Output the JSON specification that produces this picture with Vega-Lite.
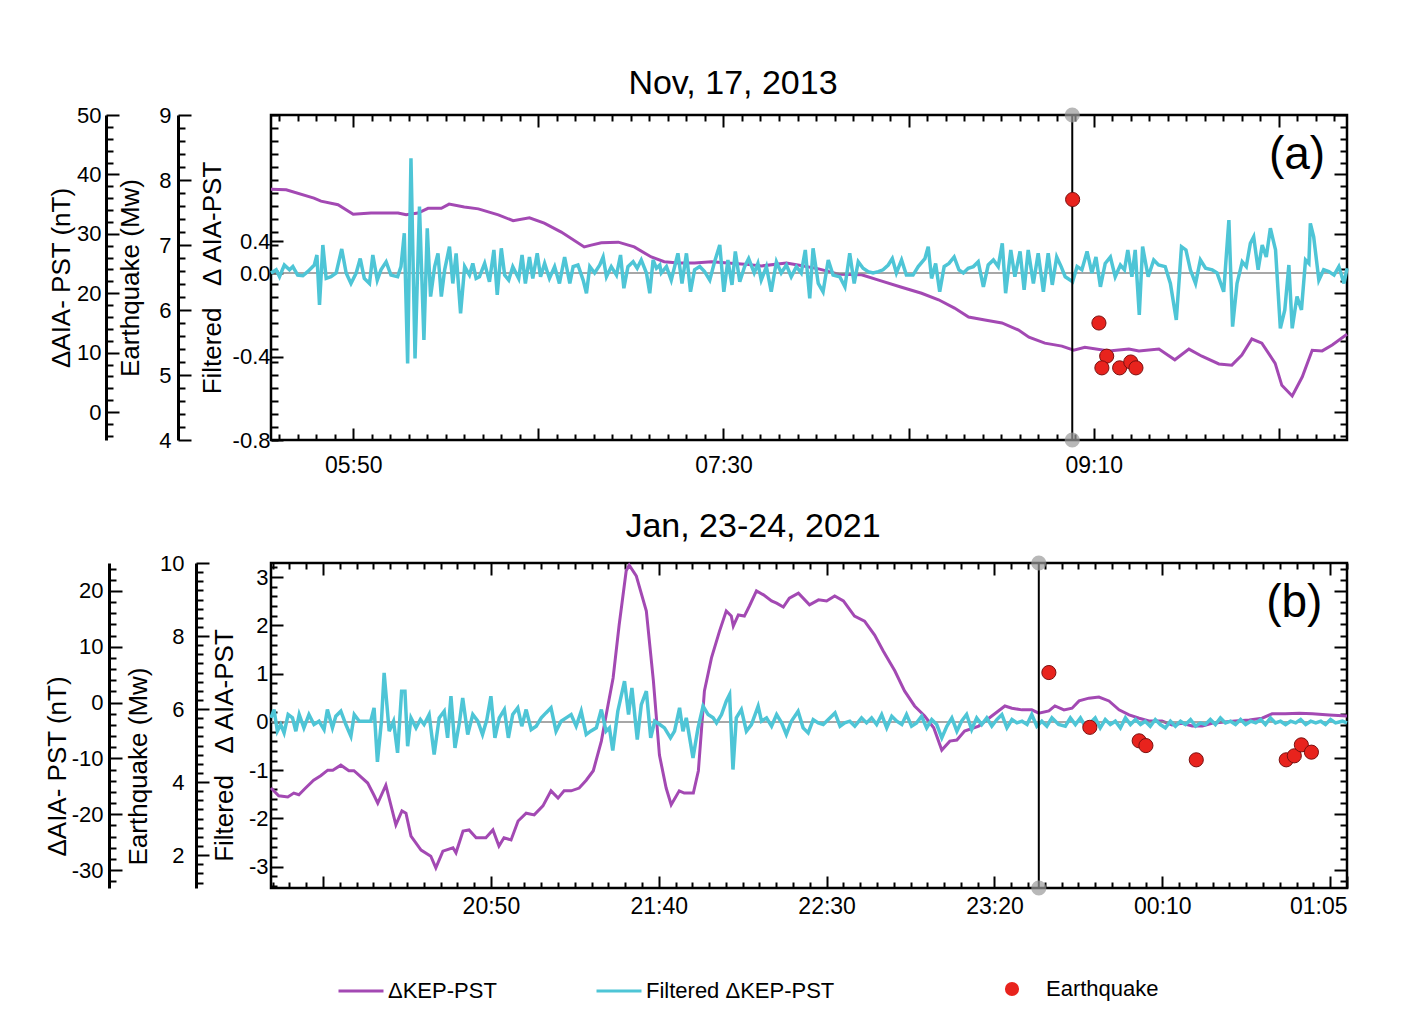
{
"$schema": "https://vega.github.io/schema/vega-lite/v6.json",
"padding": {"left": 42, "top": 65, "right": 10, "bottom": 5},
"background": "white",
"spacing": 23,
"config": {
  "font": "Liberation Sans",
  "view": {"stroke": "black", "strokeWidth": 2.5},
  "title": {"fontSize": 34, "fontWeight": "normal", "color": "black"},
  "axis": {"labelFontSize": 22, "titleFontSize": 26, "titleFontWeight": "normal", "labelColor": "black", "titleColor": "black", "tickColor": "black", "tickWidth": 2, "domainColor": "black", "domainWidth": 3, "grid": false, "labelOverlap": false}
},
"resolve": {"scale": {"color": "independent", "fill": "independent"}},
"datasets": {
  "zero": [{"z": 0}],
  "kepA": [{"t":327.8,"v":37.5},{"t":331.9,"v":37.4},{"t":339.4,"v":36.0},{"t":341.3,"v":35.5},{"t":345.9,"v":34.9},{"t":350.0,"v":33.3},{"t":354.8,"v":33.5},{"t":362.1,"v":33.5},{"t":364.3,"v":33.2},{"t":367.5,"v":33.5},{"t":370.2,"v":34.3},{"t":373.8,"v":34.3},{"t":375.9,"v":35.0},{"t":380.0,"v":34.5},{"t":383.8,"v":34.2},{"t":389.2,"v":33.2},{"t":393.2,"v":32.2},{"t":397.6,"v":32.7},{"t":401.6,"v":31.8},{"t":406.2,"v":30.3},{"t":412.4,"v":27.8},{"t":414.3,"v":28.1},{"t":417.0,"v":28.5},{"t":421.6,"v":28.6},{"t":425.9,"v":27.8},{"t":430.5,"v":26.1},{"t":434.0,"v":25.3},{"t":437.8,"v":25.1},{"t":442.2,"v":25.1},{"t":446.8,"v":25.3},{"t":455.7,"v":24.9},{"t":460.3,"v":24.6},{"t":467.0,"v":25.1},{"t":470.5,"v":24.7},{"t":475.7,"v":24.1},{"t":481.1,"v":23.2},{"t":487.3,"v":23.1},{"t":491.9,"v":22.2},{"t":498.1,"v":21.0},{"t":503.5,"v":20.0},{"t":508.1,"v":18.9},{"t":512.4,"v":17.5},{"t":516.2,"v":16.0},{"t":520.6,"v":15.5},{"t":525.2,"v":15.0},{"t":529.7,"v":13.8},{"t":532.5,"v":12.6},{"t":536.8,"v":11.6},{"t":541.4,"v":11.1},{"t":544.6,"v":10.4},{"t":547.6,"v":10.9},{"t":554.1,"v":10.3},{"t":559.5,"v":10.6},{"t":562.2,"v":10.3},{"t":567.6,"v":10.6},{"t":571.9,"v":8.8},{"t":575.7,"v":10.6},{"t":579.2,"v":9.4},{"t":583.8,"v":8.1},{"t":587.3,"v":7.9},{"t":590.0,"v":9.6},{"t":592.7,"v":12.3},{"t":595.4,"v":11.6},{"t":599.0,"v":8.2},{"t":600.8,"v":4.5},{"t":603.6,"v":2.7},{"t":606.3,"v":5.9},{"t":609.0,"v":10.4},{"t":611.7,"v":10.3},{"t":614.4,"v":11.3},{"t":618.4,"v":13.1}],
  "filtA": [{"t":327.8,"v":0.0},{"t":329.2,"v":0.04},{"t":330.1,"v":-0.018},{"t":331.4,"v":0.1},{"t":332.8,"v":0.04},{"t":333.7,"v":0.08},{"t":335.0,"v":-0.01},{"t":336.4,"v":-0.013},{"t":337.7,"v":0.017},{"t":339.5,"v":0.1},{"t":340.2,"v":0.225},{"t":340.9,"v":-0.153},{"t":341.8,"v":0.35},{"t":342.7,"v":-0.026},{"t":344.0,"v":-0.018},{"t":345.4,"v":0.0},{"t":346.9,"v":0.3},{"t":348.1,"v":0.0},{"t":349.4,"v":-0.05},{"t":350.8,"v":0.0},{"t":351.9,"v":0.18},{"t":353.0,"v":-0.026},{"t":354.4,"v":-0.05},{"t":355.3,"v":0.225},{"t":356.5,"v":-0.034},{"t":357.5,"v":0.04},{"t":358.9,"v":0.14},{"t":360.2,"v":-0.01},{"t":362.0,"v":-0.018},{"t":362.9,"v":0.08},{"t":363.8,"v":0.449},{"t":364.7,"v":-0.433},{"t":365.6,"v":0.925},{"t":366.7,"v":-0.409},{"t":367.9,"v":0.618},{"t":369.1,"v":-0.321},{"t":370.0,"v":0.481},{"t":370.9,"v":-0.113},{"t":372.0,"v":0.08},{"t":372.9,"v":0.246},{"t":373.8,"v":-0.113},{"t":374.7,"v":0.04},{"t":376.0,"v":0.329},{"t":376.9,"v":-0.05},{"t":377.8,"v":0.246},{"t":379.0,"v":-0.193},{"t":380.1,"v":0.08},{"t":381.4,"v":-0.01},{"t":382.3,"v":0.12},{"t":383.2,"v":-0.026},{"t":384.1,"v":-0.018},{"t":385.5,"v":0.12},{"t":386.8,"v":-0.042},{"t":388.0,"v":0.288},{"t":388.9,"v":-0.105},{"t":390.0,"v":0.309},{"t":390.9,"v":-0.01},{"t":392.0,"v":-0.034},{"t":393.1,"v":0.08},{"t":394.7,"v":-0.026},{"t":395.6,"v":0.225},{"t":396.5,"v":-0.05},{"t":397.6,"v":0.2},{"t":398.5,"v":-0.026},{"t":399.7,"v":0.246},{"t":400.6,"v":-0.018},{"t":401.7,"v":0.12},{"t":403.0,"v":-0.026},{"t":404.4,"v":0.08},{"t":405.7,"v":-0.05},{"t":407.1,"v":0.2},{"t":408.5,"v":-0.05},{"t":409.4,"v":0.08},{"t":410.7,"v":0.1},{"t":412.1,"v":-0.034},{"t":413.0,"v":-0.097},{"t":413.9,"v":0.08},{"t":415.2,"v":0.0},{"t":416.6,"v":0.1},{"t":417.5,"v":0.2},{"t":418.4,"v":-0.018},{"t":419.7,"v":0.08},{"t":421.1,"v":-0.01},{"t":422.2,"v":0.225},{"t":423.1,"v":-0.073},{"t":424.2,"v":0.08},{"t":425.6,"v":0.14},{"t":426.7,"v":0.059},{"t":427.8,"v":0.163},{"t":429.2,"v":0.0},{"t":430.1,"v":-0.097},{"t":431.0,"v":0.163},{"t":431.9,"v":0.059},{"t":432.8,"v":0.1},{"t":433.2,"v":0.0},{"t":434.6,"v":0.08},{"t":435.9,"v":-0.034},{"t":437.7,"v":0.246},{"t":438.8,"v":-0.05},{"t":440.0,"v":0.246},{"t":441.1,"v":-0.09},{"t":442.2,"v":0.04},{"t":443.6,"v":0.08},{"t":444.9,"v":0.017},{"t":446.3,"v":-0.034},{"t":447.6,"v":0.14},{"t":449.0,"v":0.35},{"t":450.1,"v":-0.09},{"t":451.2,"v":0.163},{"t":452.3,"v":-0.057},{"t":453.2,"v":0.27},{"t":454.4,"v":-0.042},{"t":455.7,"v":0.08},{"t":456.8,"v":0.18},{"t":458.3,"v":0.0},{"t":459.3,"v":0.12},{"t":460.2,"v":-0.034},{"t":461.6,"v":0.08},{"t":462.9,"v":-0.09},{"t":464.3,"v":0.14},{"t":465.6,"v":0.0},{"t":467.0,"v":0.1},{"t":468.3,"v":-0.018},{"t":469.7,"v":0.08},{"t":471.0,"v":0.0},{"t":472.1,"v":0.288},{"t":473.3,"v":-0.121},{"t":474.2,"v":0.309},{"t":475.6,"v":-0.05},{"t":476.9,"v":-0.09},{"t":478.3,"v":0.163},{"t":479.6,"v":-0.01},{"t":481.4,"v":-0.018},{"t":482.8,"v":-0.066},{"t":484.1,"v":0.246},{"t":485.3,"v":-0.05},{"t":486.4,"v":0.14},{"t":487.7,"v":0.059},{"t":489.1,"v":0.017},{"t":490.4,"v":0.0},{"t":491.8,"v":0.017},{"t":493.1,"v":0.04},{"t":494.5,"v":0.1},{"t":495.6,"v":0.18},{"t":496.7,"v":0.0},{"t":498.1,"v":0.163},{"t":499.4,"v":-0.01},{"t":501.2,"v":-0.01},{"t":502.6,"v":0.08},{"t":504.4,"v":0.18},{"t":505.3,"v":0.329},{"t":506.2,"v":-0.026},{"t":507.3,"v":0.12},{"t":508.4,"v":-0.09},{"t":509.6,"v":0.08},{"t":510.9,"v":0.12},{"t":512.3,"v":0.2},{"t":513.6,"v":0.04},{"t":514.8,"v":0.0},{"t":516.1,"v":0.059},{"t":517.5,"v":0.08},{"t":518.8,"v":0.14},{"t":520.2,"v":-0.066},{"t":521.5,"v":0.1},{"t":522.9,"v":0.163},{"t":524.2,"v":0.08},{"t":525.3,"v":0.371},{"t":526.2,"v":-0.097},{"t":527.6,"v":0.288},{"t":528.7,"v":-0.018},{"t":530.1,"v":0.27},{"t":531.2,"v":-0.081},{"t":532.3,"v":0.288},{"t":533.7,"v":-0.05},{"t":535.0,"v":0.246},{"t":536.4,"v":-0.09},{"t":537.7,"v":0.246},{"t":538.8,"v":-0.057},{"t":540.0,"v":0.2},{"t":541.2,"v":0.08},{"t":542.3,"v":-0.018},{"t":544.3,"v":-0.042},{"t":545.5,"v":0.08},{"t":546.8,"v":0.04},{"t":548.2,"v":0.27},{"t":549.5,"v":0.0},{"t":550.6,"v":0.2},{"t":551.8,"v":-0.066},{"t":553.1,"v":0.12},{"t":554.5,"v":0.2},{"t":555.8,"v":-0.018},{"t":557.2,"v":0.1},{"t":558.3,"v":0.04},{"t":559.2,"v":0.288},{"t":560.3,"v":-0.018},{"t":561.2,"v":0.288},{"t":562.3,"v":-0.201},{"t":563.2,"v":0.329},{"t":564.7,"v":-0.018},{"t":566.2,"v":0.163},{"t":567.5,"v":0.1},{"t":569.3,"v":0.08},{"t":570.7,"v":-0.05},{"t":572.3,"v":-0.225},{"t":573.7,"v":0.329},{"t":574.9,"v":0.288},{"t":576.1,"v":0.04},{"t":577.5,"v":-0.05},{"t":578.8,"v":0.163},{"t":580.2,"v":0.059},{"t":582.0,"v":0.04},{"t":583.3,"v":0.0},{"t":585.1,"v":-0.09},{"t":586.5,"v":0.533},{"t":587.5,"v":-0.257},{"t":588.7,"v":-0.05},{"t":590.1,"v":0.14},{"t":591.2,"v":0.08},{"t":592.3,"v":0.371},{"t":593.2,"v":0.427},{"t":594.4,"v":0.04},{"t":595.5,"v":0.35},{"t":596.6,"v":0.2},{"t":597.7,"v":0.481},{"t":599.1,"v":0.288},{"t":600.4,"v":-0.265},{"t":601.6,"v":-0.177},{"t":602.7,"v":0.1},{"t":603.6,"v":-0.265},{"t":604.9,"v":-0.113},{"t":606.1,"v":-0.177},{"t":607.2,"v":0.163},{"t":608.1,"v":0.12},{"t":608.5,"v":0.512},{"t":609.4,"v":0.427},{"t":610.8,"v":-0.034},{"t":612.1,"v":0.04},{"t":613.5,"v":0.017},{"t":614.9,"v":-0.01},{"t":616.2,"v":0.08},{"t":617.6,"v":-0.05},{"t":618.4,"v":0.059}],
  "eqA": [{"t":544.3,"mw":7.7},{"t":551.4,"mw":5.8},{"t":553.5,"mw":5.29},{"t":552.2,"mw":5.11},{"t":557.0,"mw":5.11},{"t":560.0,"mw":5.2},{"t":561.4,"mw":5.11}],
  "markA": [{"t":544.2,"mw":4},{"t":544.2,"mw":9}],
  "quakeA": [{"t":544.2}],
  "tagA": [{"t":604.9,"v":43.3,"label":"(a)"}],
  "kepB": [{"t":1184.5,"v":-15.3},{"t":1186.8,"v":-16.7},{"t":1189.5,"v":-16.9},{"t":1191.3,"v":-16.2},{"t":1192.8,"v":-16.5},{"t":1194.8,"v":-15.3},{"t":1197.2,"v":-13.9},{"t":1199.3,"v":-13.1},{"t":1201.4,"v":-12.1},{"t":1202.9,"v":-12.1},{"t":1205.3,"v":-11.2},{"t":1207.7,"v":-12.2},{"t":1209.2,"v":-12.2},{"t":1210.7,"v":-13.0},{"t":1213.3,"v":-14.4},{"t":1215.1,"v":-16.5},{"t":1216.3,"v":-18.0},{"t":1218.7,"v":-14.8},{"t":1221.7,"v":-21.9},{"t":1223.5,"v":-19.4},{"t":1224.7,"v":-19.8},{"t":1226.2,"v":-23.9},{"t":1229.2,"v":-26.4},{"t":1232.1,"v":-27.5},{"t":1233.6,"v":-29.6},{"t":1235.7,"v":-26.6},{"t":1238.7,"v":-26.0},{"t":1239.6,"v":-26.9},{"t":1241.7,"v":-23.0},{"t":1243.5,"v":-22.8},{"t":1245.6,"v":-24.2},{"t":1248.5,"v":-24.2},{"t":1250.6,"v":-22.8},{"t":1252.4,"v":-25.7},{"t":1253.9,"v":-24.2},{"t":1256.0,"v":-24.6},{"t":1258.1,"v":-21.2},{"t":1260.5,"v":-19.8},{"t":1262.9,"v":-20.1},{"t":1265.5,"v":-18.5},{"t":1267.9,"v":-15.8},{"t":1270.0,"v":-17.1},{"t":1271.8,"v":-15.8},{"t":1273.9,"v":-15.8},{"t":1276.3,"v":-15.3},{"t":1278.4,"v":-13.9},{"t":1280.5,"v":-12.2},{"t":1282.9,"v":-6.9},{"t":1284.9,"v":-0.4},{"t":1286.4,"v":4.4},{"t":1288.2,"v":13.9},{"t":1290.3,"v":23.6},{"t":1291.2,"v":24.6},{"t":1293.3,"v":22.7},{"t":1296.3,"v":16.4},{"t":1298.4,"v":3.9},{"t":1300.2,"v":-9.4},{"t":1302.2,"v":-15.3},{"t":1303.7,"v":-18.3},{"t":1306.1,"v":-15.8},{"t":1307.6,"v":-16.2},{"t":1310.3,"v":-16.2},{"t":1311.8,"v":-12.2},{"t":1313.6,"v":2.1},{"t":1315.7,"v":8.0},{"t":1318.1,"v":12.8},{"t":1320.1,"v":16.4},{"t":1321.6,"v":15.5},{"t":1322.2,"v":13.7},{"t":1323.7,"v":15.7},{"t":1325.5,"v":15.5},{"t":1327.0,"v":17.3},{"t":1329.1,"v":20.0},{"t":1331.2,"v":19.3},{"t":1333.6,"v":18.2},{"t":1335.1,"v":17.8},{"t":1337.1,"v":17.1},{"t":1338.9,"v":18.7},{"t":1341.6,"v":19.6},{"t":1344.9,"v":17.5},{"t":1347.6,"v":18.4},{"t":1350.0,"v":18.2},{"t":1352.4,"v":19.1},{"t":1355.0,"v":18.2},{"t":1358.3,"v":15.5},{"t":1361.3,"v":14.6},{"t":1364.3,"v":12.1},{"t":1366.9,"v":9.2},{"t":1370.3,"v":5.7},{"t":1373.2,"v":2.1},{"t":1376.2,"v":-0.6},{"t":1379.2,"v":-2.4},{"t":1381.9,"v":-4.5},{"t":1384.3,"v":-8.5},{"t":1386.7,"v":-6.9},{"t":1388.8,"v":-6.7},{"t":1391.1,"v":-5.1},{"t":1395.3,"v":-4.2},{"t":1399.2,"v":-2.4},{"t":1403.1,"v":-0.6},{"t":1405.2,"v":-1.0},{"t":1408.2,"v":-1.3},{"t":1411.1,"v":-1.3},{"t":1413.2,"v":-1.9},{"t":1416.2,"v":-1.5},{"t":1418.0,"v":-0.6},{"t":1420.7,"v":-1.3},{"t":1423.1,"v":-1.0},{"t":1425.2,"v":0.3},{"t":1428.1,"v":0.8},{"t":1431.1,"v":1.0},{"t":1434.1,"v":0.3},{"t":1437.1,"v":-1.3},{"t":1440.1,"v":-2.2},{"t":1443.1,"v":-2.8},{"t":1446.0,"v":-3.3},{"t":1449.9,"v":-3.3},{"t":1452.9,"v":-4.0},{"t":1455.9,"v":-3.7},{"t":1458.9,"v":-4.2},{"t":1461.9,"v":-4.2},{"t":1464.8,"v":-3.7},{"t":1467.8,"v":-3.5},{"t":1471.7,"v":-3.3},{"t":1475.9,"v":-3.1},{"t":1479.7,"v":-2.8},{"t":1482.7,"v":-2.0},{"t":1486.6,"v":-2.0},{"t":1490.8,"v":-1.9},{"t":1494.7,"v":-2.0},{"t":1499.7,"v":-2.2},{"t":1505.0,"v":-2.4}],
  "filtB": [{"t":1184.5,"v":0.083},{"t":1185.4,"v":0.255},{"t":1186.4,"v":-0.193},{"t":1187.4,"v":-0.055},{"t":1188.4,"v":-0.228},{"t":1189.6,"v":0.152},{"t":1190.9,"v":0.083},{"t":1191.9,"v":-0.193},{"t":1192.9,"v":0.152},{"t":1194.3,"v":-0.124},{"t":1195.8,"v":0.152},{"t":1197.3,"v":-0.055},{"t":1198.8,"v":0.014},{"t":1200.3,"v":-0.159},{"t":1201.3,"v":0.255},{"t":1202.8,"v":-0.124},{"t":1203.8,"v":0.117},{"t":1205.3,"v":0.221},{"t":1206.8,"v":-0.055},{"t":1208.3,"v":-0.297},{"t":1209.3,"v":0.152},{"t":1210.8,"v":0.014},{"t":1214.2,"v":0.014},{"t":1215.2,"v":0.29},{"t":1216.2,"v":-0.828},{"t":1217.4,"v":0.014},{"t":1218.2,"v":1.014},{"t":1219.7,"v":-0.193},{"t":1221.0,"v":0.014},{"t":1222.2,"v":-0.642},{"t":1223.4,"v":0.635},{"t":1224.4,"v":0.635},{"t":1225.2,"v":-0.504},{"t":1226.2,"v":0.083},{"t":1227.7,"v":-0.124},{"t":1229.0,"v":0.048},{"t":1230.1,"v":-0.055},{"t":1231.6,"v":0.152},{"t":1233.1,"v":-0.676},{"t":1234.6,"v":0.083},{"t":1236.1,"v":0.221},{"t":1237.1,"v":-0.331},{"t":1238.1,"v":0.531},{"t":1239.3,"v":-0.538},{"t":1240.6,"v":-0.021},{"t":1241.6,"v":0.497},{"t":1243.1,"v":-0.262},{"t":1244.6,"v":0.152},{"t":1246.1,"v":0.014},{"t":1247.5,"v":-0.262},{"t":1248.8,"v":0.048},{"t":1250.0,"v":0.531},{"t":1251.2,"v":-0.331},{"t":1252.5,"v":0.083},{"t":1254.0,"v":0.255},{"t":1255.2,"v":-0.331},{"t":1256.5,"v":0.152},{"t":1258.0,"v":0.29},{"t":1259.2,"v":-0.09},{"t":1260.5,"v":0.255},{"t":1262.0,"v":-0.159},{"t":1263.5,"v":-0.09},{"t":1265.0,"v":0.083},{"t":1266.4,"v":0.186},{"t":1267.9,"v":0.29},{"t":1269.4,"v":-0.193},{"t":1270.9,"v":0.014},{"t":1272.4,"v":0.083},{"t":1273.9,"v":0.152},{"t":1275.4,"v":-0.09},{"t":1276.9,"v":0.221},{"t":1278.4,"v":-0.262},{"t":1279.7,"v":-0.193},{"t":1281.4,"v":-0.124},{"t":1282.9,"v":0.255},{"t":1284.3,"v":-0.193},{"t":1285.3,"v":-0.124},{"t":1286.3,"v":-0.594},{"t":1287.8,"v":0.221},{"t":1289.8,"v":0.842},{"t":1291.0,"v":0.152},{"t":1292.0,"v":0.704},{"t":1293.6,"v":-0.366},{"t":1294.8,"v":0.359},{"t":1296.3,"v":0.635},{"t":1297.6,"v":-0.331},{"t":1298.8,"v":0.014},{"t":1300.3,"v":-0.055},{"t":1301.7,"v":-0.124},{"t":1303.5,"v":-0.331},{"t":1304.7,"v":-0.193},{"t":1306.2,"v":0.29},{"t":1307.2,"v":-0.193},{"t":1308.2,"v":0.083},{"t":1310.2,"v":-0.745},{"t":1311.7,"v":-0.124},{"t":1313.2,"v":0.325},{"t":1314.7,"v":0.152},{"t":1316.2,"v":0.083},{"t":1317.2,"v":-0.021},{"t":1318.7,"v":0.152},{"t":1320.1,"v":0.428},{"t":1321.1,"v":0.566},{"t":1322.1,"v":-0.987},{"t":1323.1,"v":0.083},{"t":1324.6,"v":0.255},{"t":1326.1,"v":-0.193},{"t":1327.6,"v":-0.055},{"t":1329.6,"v":0.325},{"t":1330.6,"v":0.014},{"t":1332.1,"v":0.083},{"t":1333.6,"v":-0.09},{"t":1335.1,"v":0.152},{"t":1336.6,"v":-0.021},{"t":1338.0,"v":-0.262},{"t":1339.5,"v":0.014},{"t":1341.5,"v":0.221},{"t":1343.0,"v":-0.124},{"t":1344.5,"v":-0.228},{"t":1346.0,"v":0.048},{"t":1347.5,"v":-0.021},{"t":1349.0,"v":-0.055},{"t":1350.5,"v":0.048},{"t":1352.5,"v":0.186},{"t":1354.0,"v":-0.09},{"t":1355.4,"v":-0.021},{"t":1356.9,"v":0.014},{"t":1358.4,"v":-0.09},{"t":1360.4,"v":0.083},{"t":1361.9,"v":-0.021},{"t":1363.4,"v":0.083},{"t":1364.9,"v":-0.055},{"t":1366.4,"v":0.152},{"t":1367.9,"v":-0.124},{"t":1369.4,"v":0.117},{"t":1370.9,"v":0.014},{"t":1372.4,"v":-0.055},{"t":1373.8,"v":0.152},{"t":1375.3,"v":-0.09},{"t":1376.8,"v":-0.021},{"t":1378.3,"v":0.117},{"t":1379.8,"v":-0.124},{"t":1381.3,"v":0.048},{"t":1382.8,"v":-0.055},{"t":1384.3,"v":-0.331},{"t":1385.8,"v":-0.09},{"t":1387.3,"v":0.083},{"t":1388.8,"v":-0.193},{"t":1390.2,"v":0.014},{"t":1391.7,"v":0.152},{"t":1393.2,"v":-0.159},{"t":1394.7,"v":0.083},{"t":1396.2,"v":-0.055},{"t":1397.7,"v":0.083},{"t":1399.2,"v":-0.09},{"t":1400.7,"v":0.048},{"t":1402.2,"v":0.152},{"t":1403.7,"v":-0.124},{"t":1405.2,"v":0.048},{"t":1406.7,"v":-0.021},{"t":1408.2,"v":0.014},{"t":1409.7,"v":-0.055},{"t":1411.1,"v":0.152},{"t":1412.6,"v":-0.09},{"t":1414.1,"v":0.014},{"t":1415.6,"v":-0.09},{"t":1417.1,"v":0.083},{"t":1419.1,"v":-0.055},{"t":1421.1,"v":-0.09},{"t":1422.6,"v":0.083},{"t":1424.1,"v":-0.055},{"t":1425.6,"v":0.083},{"t":1427.0,"v":-0.09},{"t":1428.5,"v":-0.021},{"t":1430.0,"v":0.083},{"t":1431.5,"v":-0.124},{"t":1433.0,"v":0.048},{"t":1434.5,"v":-0.055},{"t":1436.0,"v":0.014},{"t":1437.5,"v":-0.124},{"t":1439.0,"v":0.083},{"t":1440.5,"v":-0.055},{"t":1442.0,"v":0.048},{"t":1443.5,"v":-0.055},{"t":1444.9,"v":0.014},{"t":1446.4,"v":-0.09},{"t":1447.9,"v":0.048},{"t":1449.4,"v":-0.055},{"t":1450.9,"v":-0.124},{"t":1452.4,"v":0.014},{"t":1453.9,"v":-0.09},{"t":1455.4,"v":0.014},{"t":1456.9,"v":-0.055},{"t":1458.4,"v":0.048},{"t":1459.9,"v":-0.09},{"t":1461.4,"v":-0.021},{"t":1462.8,"v":-0.055},{"t":1464.3,"v":0.048},{"t":1465.8,"v":-0.055},{"t":1467.3,"v":0.083},{"t":1468.8,"v":-0.021},{"t":1470.3,"v":0.014},{"t":1471.8,"v":-0.055},{"t":1473.3,"v":0.048},{"t":1474.8,"v":-0.055},{"t":1476.3,"v":0.014},{"t":1477.8,"v":-0.021},{"t":1479.3,"v":0.048},{"t":1480.7,"v":-0.055},{"t":1482.2,"v":0.083},{"t":1483.7,"v":-0.021},{"t":1485.2,"v":0.014},{"t":1486.7,"v":-0.055},{"t":1488.2,"v":0.014},{"t":1489.7,"v":-0.021},{"t":1491.2,"v":0.048},{"t":1492.7,"v":-0.055},{"t":1494.2,"v":0.014},{"t":1495.7,"v":-0.021},{"t":1497.2,"v":0.014},{"t":1498.6,"v":-0.055},{"t":1500.1,"v":0.048},{"t":1501.6,"v":-0.021},{"t":1503.6,"v":0.014},{"t":1505.0,"v":-0.021}],
  "eqB": [{"t":1416.2,"mw":7.0},{"t":1428.4,"mw":5.5},{"t":1443.1,"mw":5.13},{"t":1445.1,"mw":5.0},{"t":1460.1,"mw":4.61},{"t":1486.9,"mw":4.61},{"t":1489.3,"mw":4.72},{"t":1491.4,"mw":5.02},{"t":1494.4,"mw":4.82}],
  "markB": [{"t":1413.2,"mw":1.1},{"t":1413.2,"mw":10}],
  "quakeB": [{"t":1413.2}],
  "tagB": [{"t":1489.3,"v":17.8,"label":"(b)"}],
  "legendLines": [{"series":"ΔKEP-PST"},{"series":"Filtered ΔKEP-PST"}],
  "legendQuake": [{"series":"Earthquake"}]
},
"vconcat": [
 {
  "width": 1076, "height": 325,
  "title": {"text": "Nov, 17, 2013", "frame": "group", "dx": -76, "offset": 3},
  "resolve": {"scale": {"y": "independent"}, "axis": {"x": "independent", "y": "independent"}},
  "layer": [
   {
    "resolve": {"axis": {"x": "independent", "y": "independent"}},
    "layer": [
     {
      "data": {"name": "kepA"},
      "mark": {"type": "line", "color": "#a349b3", "strokeWidth": 3},
      "encoding": {
       "x": {"field": "t", "type": "quantitative", "scale": {"domain": [327.8, 618.4], "nice": false, "zero": false},
             "axis": {"orient": "bottom", "tickCount": 58, "tickSize": {"condition": {"test": "datum.value % 50 === 0", "value": -12}, "value": -6}, "domain": false, "labelFontSize": 23, "labelExpr": "datum.value % 100 === 50 ? format(floor(datum.value/60),'02d') + ':' + format(datum.value % 60,'02d') : ''", "labelPadding": 26, "labelFlush": false, "title": null}},
       "y": {"field": "v", "type": "quantitative", "scale": {"domain": [-4.7, 50], "nice": false, "zero": false},
             "axis": {"orient": "left", "offset": 165, "tickCount": 28, "tickSize": {"condition": {"test": "datum.value % 10 === 0", "value": -13}, "value": -7}, "domain": true, "labelExpr": "datum.value % 10 === 0 ? (datum.value < 0 ? '-' : '') + format(abs(datum.value),'d') : ''", "labelPadding": 18, "title": "ΔAIA- PST (nT)", "titlePadding": 2}}
      }
     },
     {
      "data": {"name": "tagA"},
      "mark": {"type": "text", "fontSize": 46, "align": "center", "baseline": "middle", "color": "black"},
      "encoding": {
       "x": {"field": "t", "type": "quantitative", "scale": {"domain": [327.8, 618.4], "nice": false, "zero": false},
             "axis": {"orient": "top", "tickCount": 58, "tickSize": {"condition": {"test": "datum.value % 50 === 0", "value": -12}, "value": -6}, "domain": false, "labels": false, "title": null}},
       "y": {"field": "v", "type": "quantitative", "scale": {"domain": [-4.7, 50], "nice": false, "zero": false},
             "axis": {"orient": "right", "tickCount": 28, "tickSize": {"condition": {"test": "datum.value % 10 === 0", "value": -13}, "value": -7}, "domain": false, "labels": false, "title": null}},
       "text": {"field": "label"}
      }
     }
    ]
   },
   {
    "resolve": {"axis": {"x": "independent", "y": "independent"}},
    "layer": [
     {
      "data": {"name": "zero"},
      "mark": {"type": "rule", "color": "#8a8a8a", "strokeWidth": 1.5},
      "encoding": {"y": {"field": "z", "type": "quantitative", "scale": {"domain": [-0.8, 0, 0.4, 1.2], "range": [325, 158, 126, 0], "nice": false, "zero": false}, "axis": null}}
     },
     {
      "data": {"name": "filtA"},
      "mark": {"type": "line", "color": "#4ec5d6", "strokeWidth": 3.5},
      "encoding": {
       "x": {"field": "t", "type": "quantitative", "scale": {"domain": [327.8, 618.4], "nice": false, "zero": false}, "axis": null},
       "y": {"field": "v", "type": "quantitative", "scale": {"domain": [-0.8, 0, 0.4, 1.2], "range": [325, 158, 126, 0], "nice": false, "zero": false},
             "axis": {"orient": "left", "offset": 0, "values": [-0.8, -0.4, 0, 0.4], "tickSize": -12, "domain": false, "labelExpr": "(datum.value < 0 ? '-' : '') + format(abs(datum.value),'.1f')", "labelPadding": 13, "title": "Filtered \u00a0 Δ AIA-PST", "titlePadding": 7}}
      }
     }
    ]
   },
   {
    "data": {"name": "quakeA"},
    "mark": {"type": "rule", "color": "black", "strokeWidth": 2},
    "encoding": {"x": {"field": "t", "type": "quantitative", "scale": {"domain": [327.8, 618.4], "nice": false, "zero": false}, "axis": null}}
   },
   {
    "resolve": {"axis": {"x": "independent", "y": "independent"}},
    "layer": [
     {
      "data": {"name": "markA"},
      "mark": {"type": "point", "filled": true, "size": 230, "fill": "#9a9a9a", "opacity": 0.7, "strokeWidth": 0},
      "encoding": {
       "x": {"field": "t", "type": "quantitative", "scale": {"domain": [327.8, 618.4], "nice": false, "zero": false}, "axis": null},
       "y": {"field": "mw", "type": "quantitative", "scale": {"domain": [4, 9], "nice": false, "zero": false},
             "axis": {"orient": "left", "offset": 0, "tickCount": 25, "tickSize": -7, "domain": false, "labels": false, "title": null}}
      }
     },
     {
      "data": {"name": "eqA"},
      "mark": {"type": "point", "filled": true, "size": 200, "fill": "#e8231d", "stroke": "#7a1010", "strokeWidth": 1, "opacity": 1},
      "encoding": {
       "x": {"field": "t", "type": "quantitative", "scale": {"domain": [327.8, 618.4], "nice": false, "zero": false}, "axis": null},
       "y": {"field": "mw", "type": "quantitative", "scale": {"domain": [4, 9], "nice": false, "zero": false},
             "axis": {"orient": "left", "offset": 93, "tickCount": 25, "tickSize": {"condition": {"test": "abs(datum.value - round(datum.value)) < 0.001", "value": -13}, "value": -7}, "domain": true, "labelExpr": "abs(datum.value - round(datum.value)) < 0.001 ? format(round(datum.value),'d') : ''", "labelPadding": 20, "title": "Earthquake (Mw)", "titlePadding": 15}}
      }
     }
    ]
   }
  ]
 },
 {
  "width": 1076, "height": 325,
  "title": {"text": "Jan, 23-24, 2021", "frame": "group", "dx": -56, "offset": 8},
  "resolve": {"scale": {"y": "independent"}, "axis": {"x": "independent", "y": "independent"}},
  "layer": [
   {
    "resolve": {"axis": {"x": "independent", "y": "independent"}},
    "layer": [
     {
      "data": {"name": "kepB"},
      "mark": {"type": "line", "color": "#a349b3", "strokeWidth": 3},
      "encoding": {
       "x": {"field": "t", "type": "quantitative", "scale": {"domain": [1184.5, 1505], "nice": false, "zero": false},
             "axis": {"orient": "bottom", "tickCount": 64, "tickSize": {"condition": {"test": "datum.value % 50 === 0 || datum.value === 1505", "value": -12}, "value": -6}, "domain": false, "labelFontSize": 23, "labelExpr": "(datum.value % 50 === 0 && datum.value >= 1250 && datum.value < 1500) || datum.value === 1505 ? format(floor((datum.value % 1440)/60),'02d') + ':' + format(datum.value % 60,'02d') : ''", "labelPadding": 19, "labelFlush": true, "title": null}},
       "y": {"field": "v", "type": "quantitative", "scale": {"domain": [-33.2, 25], "nice": false, "zero": false},
             "axis": {"orient": "left", "offset": 162, "tickCount": 29, "tickSize": {"condition": {"test": "datum.value % 10 === 0", "value": -13}, "value": -7}, "domain": true, "labelExpr": "datum.value % 10 === 0 ? (datum.value < 0 ? '-' : '') + format(abs(datum.value),'d') : ''", "labelPadding": 19, "title": "ΔAIA- PST (nT)", "titlePadding": 1, "titleY": 203}}
      }
     },
     {
      "data": {"name": "tagB"},
      "mark": {"type": "text", "fontSize": 46, "align": "center", "baseline": "middle", "color": "black"},
      "encoding": {
       "x": {"field": "t", "type": "quantitative", "scale": {"domain": [1184.5, 1505], "nice": false, "zero": false},
             "axis": {"orient": "top", "tickCount": 64, "tickSize": {"condition": {"test": "datum.value % 50 === 0", "value": -12}, "value": -6}, "domain": false, "labels": false, "title": null}},
       "y": {"field": "v", "type": "quantitative", "scale": {"domain": [-33.2, 25], "nice": false, "zero": false},
             "axis": {"orient": "right", "tickCount": 29, "tickSize": {"condition": {"test": "datum.value % 10 === 0", "value": -13}, "value": -7}, "domain": false, "labels": false, "title": null}},
       "text": {"field": "label"}
      }
     }
    ]
   },
   {
    "resolve": {"axis": {"x": "independent", "y": "independent"}},
    "layer": [
     {
      "data": {"name": "zero"},
      "mark": {"type": "rule", "color": "#8a8a8a", "strokeWidth": 1.5},
      "encoding": {"y": {"field": "z", "type": "quantitative", "scale": {"domain": [-3.44, 3.29], "nice": false, "zero": false}, "axis": null}}
     },
     {
      "data": {"name": "filtB"},
      "mark": {"type": "line", "color": "#4ec5d6", "strokeWidth": 3.5},
      "encoding": {
       "x": {"field": "t", "type": "quantitative", "scale": {"domain": [1184.5, 1505], "nice": false, "zero": false}, "axis": null},
       "y": {"field": "v", "type": "quantitative", "scale": {"domain": [-3.44, 3.29], "nice": false, "zero": false},
             "axis": {"orient": "left", "offset": 0, "tickCount": 34, "tickSize": {"condition": {"test": "abs(datum.value - round(datum.value)) < 0.001", "value": -12}, "value": -6}, "domain": false, "labelExpr": "abs(datum.value - round(datum.value)) < 0.001 ? (datum.value < -0.5 ? '-' : '') + format(abs(round(datum.value)),'d') : ''", "labelPadding": 15, "title": "Filtered \u00a0 Δ AIA-PST", "titlePadding": 11, "titleY": 182}}
      }
     }
    ]
   },
   {
    "data": {"name": "quakeB"},
    "mark": {"type": "rule", "color": "black", "strokeWidth": 2},
    "encoding": {"x": {"field": "t", "type": "quantitative", "scale": {"domain": [1184.5, 1505], "nice": false, "zero": false}, "axis": null}}
   },
   {
    "resolve": {"axis": {"x": "independent", "y": "independent"}},
    "layer": [
     {
      "data": {"name": "markB"},
      "mark": {"type": "point", "filled": true, "size": 230, "fill": "#9a9a9a", "opacity": 0.7, "strokeWidth": 0},
      "encoding": {
       "x": {"field": "t", "type": "quantitative", "scale": {"domain": [1184.5, 1505], "nice": false, "zero": false}, "axis": null},
       "y": {"field": "mw", "type": "quantitative", "scale": {"domain": [1.1, 10], "nice": false, "zero": false}, "axis": null}
      }
     },
     {
      "data": {"name": "eqB"},
      "mark": {"type": "point", "filled": true, "size": 200, "fill": "#e8231d", "stroke": "#7a1010", "strokeWidth": 1, "opacity": 1},
      "encoding": {
       "x": {"field": "t", "type": "quantitative", "scale": {"domain": [1184.5, 1505], "nice": false, "zero": false}, "axis": null},
       "y": {"field": "mw", "type": "quantitative", "scale": {"domain": [1.1, 10], "nice": false, "zero": false},
             "axis": {"orient": "left", "offset": 75, "values": [1.25,1.5,1.75,2,2.25,2.5,2.75,3,3.25,3.5,3.75,4,4.25,4.5,4.75,5,5.25,5.5,5.75,6,6.25,6.5,6.75,7,7.25,7.5,7.75,8,8.25,8.5,8.75,9,9.25,9.5,9.75,10], "tickSize": {"condition": {"test": "datum.value % 2 === 0", "value": -13}, "value": -7}, "domain": true, "labelExpr": "datum.value % 2 === 0 ? format(datum.value,'d') : ''", "labelPadding": 25, "title": "Earthquake (Mw)", "titlePadding": 8, "titleY": 203}}
      }
     }
    ]
   },
   {
    "data": {"name": "legendLines"},
    "mark": {"type": "point", "filled": false, "opacity": 0, "strokeWidth": 3},
    "encoding": {
     "color": {"field": "series", "type": "nominal", "scale": {"domain": ["ΔKEP-PST", "Filtered ΔKEP-PST"], "range": ["#a349b3", "#4ec5d6"]},
               "legend": {"orient": "none", "legendX": 66, "legendY": 404, "direction": "horizontal", "columns": 2, "columnPadding": 93, "title": null, "labelFontSize": 22, "labelColor": "black", "labelOffset": 3, "labelLimit": 500, "symbolType": "stroke", "symbolSize": 2025, "symbolStrokeWidth": 3, "symbolOpacity": 1}}
    }
   },
   {
    "data": {"name": "legendQuake"},
    "mark": {"type": "point", "filled": true, "opacity": 0},
    "encoding": {
     "fill": {"field": "series", "type": "nominal", "scale": {"domain": ["Earthquake"], "range": ["#e8231d"]},
              "legend": {"orient": "none", "legendX": 730, "legendY": 415, "direction": "horizontal", "title": null, "labelFontSize": 22, "labelColor": "black", "labelOffset": 23, "labelLimit": 500, "symbolType": "circle", "symbolSize": 200, "symbolStrokeWidth": 0, "symbolOpacity": 1}}
    }
   }
  ]
 }
]
}
